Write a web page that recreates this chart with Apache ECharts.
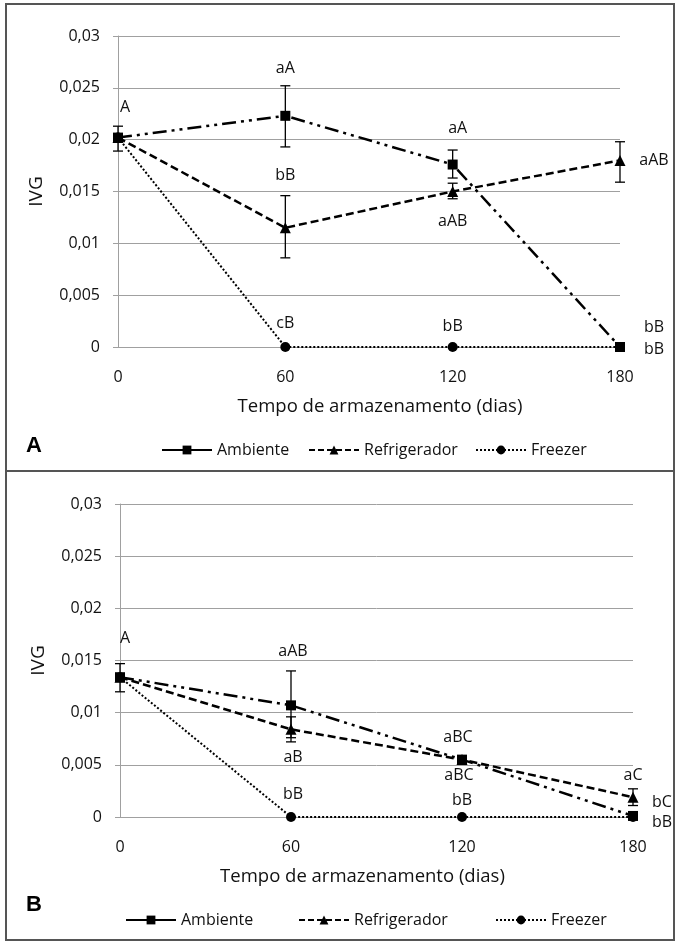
<!DOCTYPE html>
<html>
<head>
<meta charset="utf-8">
<script src="https://cdn.jsdelivr.net/npm/echarts@6/dist/echarts.min.js"></script>
<style>
html,body{margin:0;padding:0;background:#fff;}
#chart{width:676px;height:942px;}
</style>
</head>
<body>
<div id="chart"></div>
<script>
// ---------- DATA ----------
const xValues = [0, 60, 120, 180];
const yTickLabels = ['0', '0,005', '0,01', '0,015', '0,02', '0,025', '0,03'];
const seriesNames = ['Ambiente', 'Refrigerador', 'Freezer'];
const xTitle = 'Tempo de armazenamento (dias)';
const yTitle = 'IVG';

// Panel A
const ambA = [0.0202, 0.0223, 0.0176, 0];
const refA = [0.0202, 0.0115, 0.0150, 0.0180];
const frzA = [0.0202, 0, 0, 0];
const ambALow = [0.0189, 0.0193, 0.0163, null];
const ambAHigh = [0.0213, 0.0252, 0.0190, null];
const refALow = [null, 0.0086, 0.0143, 0.0159];
const refAHigh = [null, 0.0146, 0.0158, 0.0198];
const frzALow = [null, null, null, null];
const frzAHigh = [null, null, null, null];
const ambALabels = ['A', 'aA', 'aA', 'bB'];
const refALabels = ['', 'bB', 'aAB', 'aAB'];
const frzALabels = ['', 'cB', 'bB', 'bB'];

// Panel B
const ambB = [0.0134, 0.0107, 0.0055, 0.0001];
const refB = [0.0134, 0.0084, 0.0055, 0.0019];
const frzB = [0.0134, 0, 0, 0];
const ambBLow = [0.0120, 0.0076, null, null];
const ambBHigh = [0.0147, 0.0140, null, null];
const refBLow = [null, 0.0072, null, 0.0011];
const refBHigh = [null, 0.0096, null, 0.0027];
const frzBLow = [null, null, null, null];
const frzBHigh = [null, null, null, null];
const ambBLabels = ['A', 'aAB', 'aBC', 'bC'];
const refBLabels = ['', 'aB', 'aBC', 'aC'];
const frzBLabels = ['', 'bB', 'bB', 'bB'];

// ---------- LAYOUT / STYLE ----------
const FONT = 'Open Sans';
const TXT = '#111';
const GRID_C = '#a0a0a0';
const labelOffsetsA = {
  Ambiente: [[7, -30], [0, -47], [5, -36], [34, -20]],
  Refrigerador: [[0, 0], [0, -52], [0, 30], [34, 0]],
  Freezer: [[0, 0], [0, -24], [0, -21], [34, 2]]
};
const labelOffsetsB = {
  Ambiente: [[5, -39], [2, -54], [-4, -22], [29, -14]],
  Refrigerador: [[0, 0], [2, 28], [-3, 16], [0, -22]],
  Freezer: [[0, 0], [2, -23], [0, -17], [29, 5]]
};
const styles = {
  Ambiente: { symbol: 'rect', size: 10, type: [14, 5, 3, 5, 3, 5], width: 2.5, legendType: 'solid' },
  Refrigerador: { symbol: 'triangle', size: 11, type: [8, 4], width: 2.5, legendType: [6, 3] },
  Freezer: { symbol: 'circle', size: 10, type: [2, 2], width: 2, legendType: [2, 2] }
};

function lineSeries(name, vals, labels, offsets, idx) {
  const st = styles[name];
  return {
    type: 'line', name: name, xAxisIndex: idx, yAxisIndex: idx,
    symbol: st.symbol, symbolSize: st.size, z: 3,
    lineStyle: { color: '#000', width: st.width, type: st.type },
    itemStyle: { color: '#000' },
    label: { position: 'inside', color: TXT, fontFamily: FONT, fontSize: 16 },
    emphasis: { disabled: true },
    data: xValues.map((x, i) => ({
      value: [x, vals[i]],
      label: { show: !!labels[i], formatter: labels[i] || '', offset: offsets[i] }
    }))
  };
}

function errSeries(lo, hi, idx) {
  const d = [];
  xValues.forEach((x, i) => { if (lo[i] != null) d.push([x, lo[i], hi[i]]); });
  return {
    type: 'custom', xAxisIndex: idx, yAxisIndex: idx, silent: true, z: 2,
    data: d,
    renderItem: function (params, api) {
      const a = api.coord([api.value(0), api.value(1)]);
      const b = api.coord([api.value(0), api.value(2)]);
      const w = 5;
      const s = { stroke: '#000', lineWidth: 1.3 };
      return {
        type: 'group', children: [
          { type: 'line', shape: { x1: a[0], y1: a[1], x2: b[0], y2: b[1] }, style: s },
          { type: 'line', shape: { x1: a[0] - w, y1: a[1], x2: a[0] + w, y2: a[1] }, style: s },
          { type: 'line', shape: { x1: b[0] - w, y1: b[1], x2: b[0] + w, y2: b[1] }, style: s }
        ]
      };
    }
  };
}

function xAxisDef(idx, titlePad) {
  return {
    type: 'value', gridIndex: idx, min: 0, max: 180, interval: 60,
    axisLine: { show: true, lineStyle: { color: GRID_C, width: 1 } },
    axisTick: { show: false },
    splitLine: { show: false },
    axisLabel: { margin: 22, color: TXT, fontFamily: FONT, fontSize: 16 },
    name: xTitle, nameLocation: 'middle', nameGap: 50,
    nameTextStyle: { color: TXT, fontFamily: FONT, fontSize: 18.5, padding: titlePad }
  };
}
function yAxisDef(idx) {
  return {
    type: 'value', gridIndex: idx, min: 0, max: 0.03, interval: 0.005,
    axisLine: { show: true, lineStyle: { color: GRID_C, width: 1 } },
    axisTick: { show: true, length: 5, lineStyle: { color: GRID_C } },
    splitLine: { show: true, lineStyle: { color: GRID_C, width: 1 } },
    axisLabel: { margin: 18, color: TXT, fontFamily: FONT, fontSize: 16,
      formatter: v => yTickLabels[Math.round(v / 0.005)] },
    name: yTitle, nameLocation: 'middle', nameGap: 72, nameRotate: 90,
    nameTextStyle: { color: TXT, fontFamily: FONT, fontSize: 19 }
  };
}

function legendDef(name, left, top) {
  return {
    data: [name], left: left, top: top, itemWidth: 50, itemHeight: 11, itemGap: 5,
    selectedMode: false,
    lineStyle: { type: styles[name].legendType },
    textStyle: { color: TXT, fontFamily: FONT, fontSize: 16 }
  };
}

const option = {
  animation: false,
  backgroundColor: '#fff',
  grid: [
    { left: 118, top: 36, width: 502, height: 311 },
    { left: 120, top: 504, width: 513, height: 313 }
  ],
  xAxis: [xAxisDef(0, [0, 0, 0, 22]), xAxisDef(1, [0, 28, 0, 0])],
  yAxis: [yAxisDef(0), yAxisDef(1)],
  legend: [
    legendDef('Ambiente', 156, 437),
    legendDef('Refrigerador', 303, 437),
    legendDef('Freezer', 470, 437),
    legendDef('Ambiente', 120, 907),
    legendDef('Refrigerador', 293, 907),
    legendDef('Freezer', 490, 907)
  ],
  series: [
    errSeries(ambALow, ambAHigh, 0),
    errSeries(refALow, refAHigh, 0),
    errSeries(frzALow, frzAHigh, 0),
    lineSeries('Ambiente', ambA, ambALabels, labelOffsetsA.Ambiente, 0),
    lineSeries('Refrigerador', refA, refALabels, labelOffsetsA.Refrigerador, 0),
    lineSeries('Freezer', frzA, frzALabels, labelOffsetsA.Freezer, 0),
    errSeries(ambBLow, ambBHigh, 1),
    errSeries(refBLow, refBHigh, 1),
    errSeries(frzBLow, frzBHigh, 1),
    lineSeries('Ambiente', ambB, ambBLabels, labelOffsetsB.Ambiente, 1),
    lineSeries('Refrigerador', refB, refBLabels, labelOffsetsB.Refrigerador, 1),
    lineSeries('Freezer', frzB, frzBLabels, labelOffsetsB.Freezer, 1)
  ],
  graphic: [
    { type: 'rect', shape: { x: 6, y: 4, width: 668, height: 936 },
      style: { fill: 'none', stroke: '#555', lineWidth: 2 }, silent: true },
    { type: 'line', shape: { x1: 6, y1: 471, x2: 674, y2: 471 },
      style: { stroke: '#555', lineWidth: 2 }, silent: true },
    { type: 'text', left: 26, top: 435,
      style: { text: 'A', fill: '#000', font: 'bold 22px Arial, "Liberation Sans"' } },
    { type: 'text', left: 26, top: 894,
      style: { text: 'B', fill: '#000', font: 'bold 22px Arial, "Liberation Sans"' } }
  ]
};

const chart = echarts.init(document.getElementById('chart'), null, { renderer: 'canvas' });
chart.setOption(option);
</script>
</body>
</html>
